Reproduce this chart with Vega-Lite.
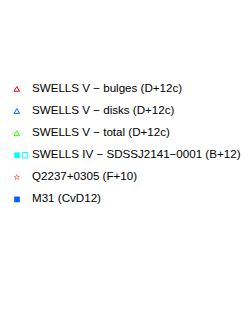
{
  "$schema": "https://vega.github.io/schema/vega-lite/v6.json",
  "width": 249,
  "height": 311,
  "autosize": {"type": "fit", "contains": "padding"},
  "padding": 0,
  "background": "white",
  "config": {"view": {"stroke": null}, "font": "Liberation Sans"},
  "data": {
    "values": [
      {"label": "SWELLS V − bulges (D+12c)", "row": 0},
      {"label": "SWELLS V − disks (D+12c)", "row": 1},
      {"label": "SWELLS V − total (D+12c)", "row": 2},
      {"label": "SWELLS IV − SDSSJ2141−0001 (B+12)", "row": 3},
      {"label": "Q2237+0305 (F+10)", "row": 4},
      {"label": "M31 (CvD12)", "row": 5}
    ]
  },
  "layer": [
    {
      "transform": [{"filter": "datum.row != 3 && datum.row != 5"}],
      "mark": {"type": "point", "filled": false, "strokeWidth": 1, "opacity": 1},
      "encoding": {
        "y": {"field": "row", "type": "quantitative", "scale": {"domain": [-4.023, 10.05], "reverse": true, "nice": false, "zero": false}, "axis": null},
        "x": {"datum": 16.8, "type": "quantitative", "scale": {"domain": [0, 249], "nice": false, "zero": false}, "axis": null},
        "shape": {"field": "label", "type": "nominal", "scale": {"domain": ["SWELLS V − bulges (D+12c)", "SWELLS V − disks (D+12c)", "SWELLS V − total (D+12c)", "Q2237+0305 (F+10)"], "range": ["triangle-up", "triangle-up", "triangle-up", "M0,-1L0.235,-0.324L0.951,-0.309L0.38,0.124L0.588,0.809L0,0.4L-0.588,0.809L-0.38,0.124L-0.951,-0.309L-0.235,-0.324Z"]}, "legend": null},
        "color": {"field": "label", "type": "nominal", "scale": {"domain": ["SWELLS V − bulges (D+12c)", "SWELLS V − disks (D+12c)", "SWELLS V − total (D+12c)", "Q2237+0305 (F+10)"], "range": ["#ff0000", "#0060ff", "#33ff00", "#ff8080"]}, "legend": null},
        "size": {"field": "label", "type": "nominal", "scale": {"domain": ["SWELLS V − bulges (D+12c)", "SWELLS V − disks (D+12c)", "SWELLS V − total (D+12c)", "Q2237+0305 (F+10)"], "range": [30, 30, 30, 50]}, "legend": null}
      }
    },
    {
      "transform": [{"filter": "datum.row == 3 || datum.row == 5"}],
      "mark": {"type": "square", "filled": true, "opacity": 1},
      "encoding": {
        "y": {"field": "row", "type": "quantitative", "scale": {"domain": [-4.023, 10.05], "reverse": true, "nice": false, "zero": false}, "axis": null},
        "x": {"datum": 17, "type": "quantitative", "scale": {"domain": [0, 249], "nice": false, "zero": false}, "axis": null},
        "fill": {"field": "label", "type": "nominal", "scale": {"domain": ["SWELLS IV − SDSSJ2141−0001 (B+12)", "M31 (CvD12)"], "range": ["#00ffff", "#0060ff"]}, "legend": null},
        "size": {"value": 32}
      }
    },
    {
      "transform": [{"filter": "datum.row == 3"}],
      "mark": {"type": "square", "filled": false, "strokeWidth": 1, "opacity": 1, "stroke": "#00ffff"},
      "encoding": {
        "y": {"field": "row", "type": "quantitative", "scale": {"domain": [-4.023, 10.05], "reverse": true, "nice": false, "zero": false}, "axis": null},
        "x": {"datum": 25, "type": "quantitative", "scale": {"domain": [0, 249], "nice": false, "zero": false}, "axis": null},
        "size": {"value": 30}
      }
    },
    {
      "mark": {"type": "text", "align": "left", "baseline": "middle", "fontSize": 11.6, "color": "black"},
      "encoding": {
        "y": {"field": "row", "type": "quantitative", "scale": {"domain": [-4.023, 10.05], "reverse": true, "nice": false, "zero": false}, "axis": null},
        "x": {"datum": 32, "type": "quantitative", "scale": {"domain": [0, 249], "nice": false, "zero": false}, "axis": null},
        "text": {"field": "label"}
      }
    }
  ],
  "resolve": {"scale": {"color": "independent", "shape": "independent", "fill": "independent", "size": "independent"}}
}
